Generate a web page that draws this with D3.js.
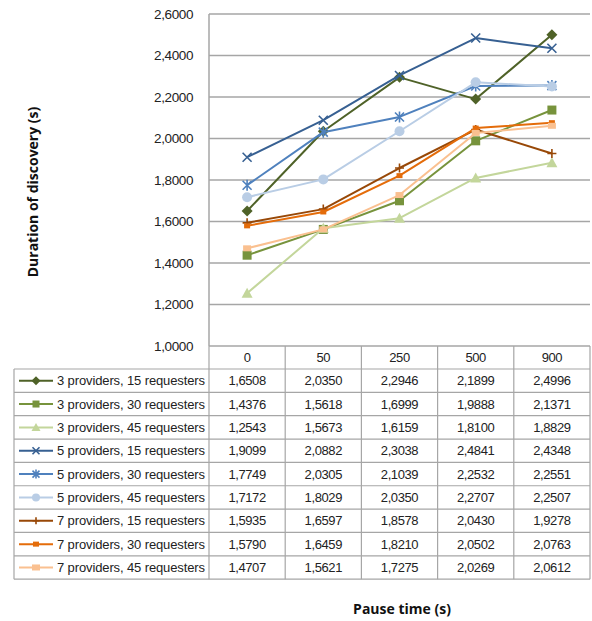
<!DOCTYPE html>
<html>
<head>
<meta charset="utf-8">
<script src="https://cdn.jsdelivr.net/npm/d3@7"></script>
<style>
  html, body { margin: 0; padding: 0; background: #fff; }
  svg { display: block; }
  text { font-family: "Liberation Sans", Arial, sans-serif; }
</style>
</head>
<body>
<svg id="chart" width="592" height="621"></svg>
<script>
// Pause time categories (x axis / table header)
const categories = ["0", "50", "250", "500", "900"];

// Series names (legend column of the data table)
const seriesNames = [
  "3 providers, 15 requesters",
  "3 providers, 30 requesters",
  "3 providers, 45 requesters",
  "5 providers, 15 requesters",
  "5 providers, 30 requesters",
  "5 providers, 45 requesters",
  "7 providers, 15 requesters",
  "7 providers, 30 requesters",
  "7 providers, 45 requesters"
];

// Duration of discovery (s) per series, one value per pause time
const p3r15 = [1.6508, 2.0350, 2.2946, 2.1899, 2.4996];
const p3r30 = [1.4376, 1.5618, 1.6999, 1.9888, 2.1371];
const p3r45 = [1.2543, 1.5673, 1.6159, 1.8100, 1.8829];
const p5r15 = [1.9099, 2.0882, 2.3038, 2.4841, 2.4348];
const p5r30 = [1.7749, 2.0305, 2.1039, 2.2532, 2.2551];
const p5r45 = [1.7172, 1.8029, 2.0350, 2.2707, 2.2507];
const p7r15 = [1.5935, 1.6597, 1.8578, 2.0430, 1.9278];
const p7r30 = [1.5790, 1.6459, 1.8210, 2.0502, 2.0763];
const p7r45 = [1.4707, 1.5621, 1.7275, 2.0269, 2.0612];

// Y axis ticks
const yTicks = [1.0, 1.2, 1.4, 1.6, 1.8, 2.0, 2.2, 2.4, 2.6];

const seriesValues = [p3r15, p3r30, p3r45, p5r15, p5r30, p5r45, p7r15, p7r30, p7r45];
const seriesColors = ["#4F6228", "#77933C", "#C3D69B", "#376092", "#4F81BD",
                      "#B9CDE5", "#984807", "#E46C0A", "#FAC090"];
const seriesMarkers = ["diamond", "square", "triangle", "x", "asterisk",
                       "circle", "plus", "smallsquare", "dash"];

const fmt = v => v.toFixed(4).replace(".", ",");

const svg = d3.select("#chart");
const plotLeft = 209, plotRight = 590, plotTop = 14, plotBottom = 346;
const gridColor = "#A6A6A6";

const x = d3.scaleBand().domain(categories).range([plotLeft, plotRight]).padding(0);
const y = d3.scaleLinear().domain([1.0, 2.6]).range([plotBottom, plotTop]);

// Horizontal gridlines
svg.append("g").selectAll("line").data(yTicks).join("line")
  .attr("x1", plotLeft).attr("x2", plotRight)
  .attr("y1", d => y(d)).attr("y2", d => y(d))
  .attr("stroke", gridColor).attr("stroke-width", 1.5);

// Vertical axis line
svg.append("line").attr("x1", plotLeft).attr("x2", plotLeft)
  .attr("y1", plotTop).attr("y2", plotBottom)
  .attr("stroke", gridColor).attr("stroke-width", 1.5);

// Y tick labels
svg.append("g").selectAll("text").data(yTicks).join("text")
  .attr("x", 193).attr("y", d => y(d))
  .attr("dy", "0.35em").attr("text-anchor", "end")
  .attr("font-size", 13.5).attr("letter-spacing", -0.4).attr("fill", "#222")
  .text(d => fmt(d));

// Marker drawing
function drawMarker(g, type, color, s) {
  const h = s / 2;
  switch (type) {
    case "diamond":
      g.append("path").attr("d", `M0,${-h - 1}L${h + 1},0L0,${h + 1}L${-h - 1},0Z`).attr("fill", color);
      break;
    case "square":
      g.append("rect").attr("x", -h).attr("y", -h).attr("width", s).attr("height", s).attr("fill", color);
      break;
    case "triangle":
      g.append("path").attr("d", `M0,${-h - 1}L${h + 1},${h}L${-h - 1},${h}Z`).attr("fill", color);
      break;
    case "x":
      g.append("path").attr("d", `M${-h},${-h}L${h},${h}M${-h},${h}L${h},${-h}`)
        .attr("stroke", color).attr("stroke-width", 1.6).attr("fill", "none");
      break;
    case "asterisk":
      g.append("path").attr("d", `M${-h},${-h}L${h},${h}M${-h},${h}L${h},${-h}M0,${-h - 1}L0,${h + 1}`)
        .attr("stroke", color).attr("stroke-width", 1.6).attr("fill", "none");
      break;
    case "circle":
      g.append("circle").attr("r", h + 0.5).attr("fill", color);
      break;
    case "plus":
      g.append("path").attr("d", `M${-h},0L${h},0M0,${-h}L0,${h}`)
        .attr("stroke", color).attr("stroke-width", 1.6).attr("fill", "none");
      break;
    case "smallsquare":
      g.append("rect").attr("x", -3).attr("y", -2.5).attr("width", 6).attr("height", 5).attr("fill", color);
      break;
    case "dash":
      g.append("rect").attr("x", -4).attr("y", -3).attr("width", 8).attr("height", 6).attr("fill", color);
      break;
  }
}

// Series lines and markers
const line = d3.line()
  .x((d, i) => x(categories[i]) + x.bandwidth() / 2)
  .y(d => y(d));

seriesValues.forEach((vals, si) => {
  const g = svg.append("g");
  g.append("path").datum(vals).attr("d", line)
    .attr("fill", "none").attr("stroke", seriesColors[si]).attr("stroke-width", 2)
    .attr("stroke-linejoin", "round");
  vals.forEach((v, i) => {
    const m = g.append("g")
      .attr("transform", `translate(${x(categories[i]) + x.bandwidth() / 2},${y(v)})`);
    drawMarker(m, seriesMarkers[si], seriesColors[si], 9);
  });
});

// Data table
const tableLeft = 14;
const headerBottom = 369;
const rowH = 23.35;
const tableBottom = headerBottom + rowH * seriesNames.length;
const borderColor = "#A6A6A6";
const tg = svg.append("g");

// Column separators in the header row and body
const colEdges = categories.map(c => x(c)).concat([plotRight]);
tg.selectAll("line.col").data(colEdges).join("line")
  .attr("x1", d => d).attr("x2", d => d)
  .attr("y1", plotBottom).attr("y2", tableBottom)
  .attr("stroke", borderColor).attr("stroke-width", 1.2);
// Legend column left edge
tg.append("line").attr("x1", tableLeft).attr("x2", tableLeft)
  .attr("y1", headerBottom).attr("y2", tableBottom)
  .attr("stroke", borderColor).attr("stroke-width", 1.2);
// Row separators
const rowEdges = d3.range(seriesNames.length + 1).map(i => headerBottom + i * rowH);
tg.selectAll("line.row").data(rowEdges).join("line")
  .attr("x1", tableLeft).attr("x2", plotRight)
  .attr("y1", d => d).attr("y2", d => d)
  .attr("stroke", borderColor).attr("stroke-width", 1.2);

// Header labels
tg.selectAll("text.hdr").data(categories).join("text")
  .attr("x", d => x(d) + x.bandwidth() / 2).attr("y", (plotBottom + headerBottom) / 2)
  .attr("dy", "0.35em").attr("text-anchor", "middle")
  .attr("font-size", 13).attr("letter-spacing", -0.4).attr("fill", "#222")
  .text(d => d);

// Body rows
seriesNames.forEach((name, si) => {
  const cy = headerBottom + rowH * si + rowH / 2;
  tg.append("line").attr("x1", 19).attr("x2", 53).attr("y1", cy).attr("y2", cy)
    .attr("stroke", seriesColors[si]).attr("stroke-width", 2);
  const m = tg.append("g").attr("transform", `translate(36,${cy})`);
  drawMarker(m, seriesMarkers[si], seriesColors[si], 7);
  tg.append("text").attr("x", 57).attr("y", cy).attr("dy", "0.35em")
    .attr("font-size", 13).attr("letter-spacing", -0.12).attr("fill", "#222")
    .text(name);
  seriesValues[si].forEach((v, i) => {
    tg.append("text")
      .attr("x", x(categories[i]) + x.bandwidth() / 2).attr("y", cy).attr("dy", "0.35em")
      .attr("text-anchor", "middle")
      .attr("font-size", 13).attr("letter-spacing", -0.4).attr("fill", "#222")
      .text(fmt(v));
  });
});

// Axis titles
svg.append("text")
  .attr("transform", `translate(38,${192}) rotate(-90)`)
  .attr("text-anchor", "middle")
  .style("font-family", "'Open Sans', sans-serif")
  .attr("font-size", 14).attr("font-weight", "bold").attr("fill", "#111")
  .text("Duration of discovery (s)");

svg.append("text")
  .attr("x", 402).attr("y", 614)
  .attr("text-anchor", "middle")
  .style("font-family", "'Open Sans', sans-serif")
  .attr("font-size", 14).attr("font-weight", "bold").attr("fill", "#111")
  .text("Pause time (s)");
</script>
</body>
</html>
